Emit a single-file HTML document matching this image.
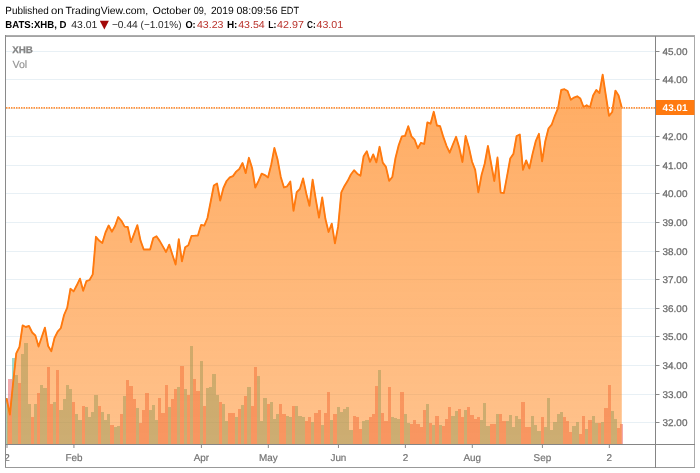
<!DOCTYPE html><html><head><meta charset="utf-8"><title>XHB</title><style>
html,body{margin:0;padding:0;background:#fff;}
body{width:700px;height:473px;position:relative;overflow:hidden;font-family:"Liberation Sans",sans-serif;}
.h{position:absolute;left:5px;white-space:nowrap;color:#000;}
#h1{top:4px;font-size:10.6px;line-height:12px;}
#h2{top:18px;font-size:10.6px;line-height:12px;}
.r{color:#b8312a;} b{font-weight:bold;}
svg{position:absolute;left:0;top:0;will-change:transform;-webkit-font-smoothing:antialiased;}
svg text{font-family:"Liberation Sans",sans-serif;}
</style></head><body>
<svg width="700" height="473" viewBox="0 0 700 473" text-rendering="geometricPrecision">
<defs><linearGradient id="g" gradientUnits="userSpaceOnUse" x1="0" y1="36" x2="0" y2="444"><stop offset="0" stop-color="#ff7f0e" stop-opacity="0.67"/><stop offset="1" stop-color="#ff7f0e" stop-opacity="0.48"/></linearGradient><clipPath id="c"><rect x="6" y="445" width="649" height="22"/></clipPath></defs>
<text x="5.3" y="14.2" font-size="10.4" fill="#050505" textLength="43.5" lengthAdjust="spacingAndGlyphs">Published</text>
<text x="51.0" y="14.2" font-size="10.4" fill="#050505" textLength="12.6" lengthAdjust="spacingAndGlyphs">on</text>
<text x="65.6" y="14.2" font-size="10.4" fill="#050505" textLength="82.5" lengthAdjust="spacingAndGlyphs">TradingView.com,</text>
<text x="152.6" y="14.2" font-size="10.4" fill="#050505" textLength="38.3" lengthAdjust="spacingAndGlyphs">October</text>
<text x="193.8" y="14.2" font-size="10.4" fill="#050505" textLength="12.6" lengthAdjust="spacingAndGlyphs">09,</text>
<text x="210.9" y="14.2" font-size="10.4" fill="#050505" textLength="22.9" lengthAdjust="spacingAndGlyphs">2019</text>
<text x="236.5" y="14.2" font-size="10.4" fill="#050505" textLength="41.1" lengthAdjust="spacingAndGlyphs">08:09:56</text>
<text x="280.7" y="14.2" font-size="10.4" fill="#050505" textLength="18.4" lengthAdjust="spacingAndGlyphs">EDT</text>
<text x="5.3" y="27.9" font-size="10.1" fill="#000" font-weight="bold" textLength="61.2" lengthAdjust="spacingAndGlyphs">BATS:XHB, D</text>
<text x="71.3" y="27.9" font-size="10.1" fill="#2a2a2a" textLength="26.1" lengthAdjust="spacingAndGlyphs">43.01</text>
<text x="111.9" y="27.9" font-size="10.1" fill="#2a2a2a" textLength="25.9" lengthAdjust="spacingAndGlyphs">−0.44</text>
<text x="140.6" y="27.9" font-size="10.1" fill="#2a2a2a" textLength="40.9" lengthAdjust="spacingAndGlyphs">(−1.01%)</text>
<text x="185.4" y="27.9" font-size="10.1" fill="#000" font-weight="bold" textLength="10.3" lengthAdjust="spacingAndGlyphs">O:</text>
<text x="196.9" y="27.9" font-size="10.1" fill="#b9322b" textLength="26.6" lengthAdjust="spacingAndGlyphs">43.23</text>
<text x="226.9" y="27.9" font-size="10.1" fill="#000" font-weight="bold" textLength="10.5" lengthAdjust="spacingAndGlyphs">H:</text>
<text x="238.2" y="27.9" font-size="10.1" fill="#b9322b" textLength="26.6" lengthAdjust="spacingAndGlyphs">43.54</text>
<text x="268.2" y="27.9" font-size="10.1" fill="#000" font-weight="bold" textLength="8.2" lengthAdjust="spacingAndGlyphs">L:</text>
<text x="277.1" y="27.9" font-size="10.1" fill="#b9322b" textLength="26.8" lengthAdjust="spacingAndGlyphs">42.97</text>
<text x="307.1" y="27.9" font-size="10.1" fill="#000" font-weight="bold" textLength="8.6" lengthAdjust="spacingAndGlyphs">C:</text>
<text x="316.5" y="27.9" font-size="10.1" fill="#b9322b" textLength="26.6" lengthAdjust="spacingAndGlyphs">43.01</text>
<polygon points="99.8,20.8 108.9,20.8 104.35,29.4" fill="#a30a0a"/>
<rect x="6" y="422" width="649" height="1" fill="#e8f0f5"/>
<rect x="6" y="394" width="649" height="1" fill="#e8f0f5"/>
<rect x="6" y="365" width="649" height="1" fill="#e8f0f5"/>
<rect x="6" y="336" width="649" height="1" fill="#e8f0f5"/>
<rect x="6" y="308" width="649" height="1" fill="#e8f0f5"/>
<rect x="6" y="279" width="649" height="1" fill="#e8f0f5"/>
<rect x="6" y="251" width="649" height="1" fill="#e8f0f5"/>
<rect x="6" y="222" width="649" height="1" fill="#e8f0f5"/>
<rect x="6" y="193" width="649" height="1" fill="#e8f0f5"/>
<rect x="6" y="165" width="649" height="1" fill="#e8f0f5"/>
<rect x="6" y="136" width="649" height="1" fill="#e8f0f5"/>
<rect x="6" y="108" width="649" height="1" fill="#e8f0f5"/>
<rect x="6" y="79" width="649" height="1" fill="#e8f0f5"/>
<rect x="6" y="51" width="649" height="1" fill="#e8f0f5"/>
<rect x="6" y="398" width="2" height="46" fill="rgba(60,178,160,0.5)"/>
<rect x="8" y="379" width="4" height="65" fill="rgba(228,80,86,0.48)"/>
<rect x="12" y="358" width="3" height="86" fill="rgba(60,178,160,0.5)"/>
<rect x="15" y="375" width="3" height="69" fill="rgba(60,178,160,0.5)"/>
<rect x="18" y="383" width="3" height="61" fill="rgba(228,80,86,0.48)"/>
<rect x="21" y="354" width="3" height="90" fill="rgba(60,178,160,0.5)"/>
<rect x="24" y="343" width="4" height="101" fill="rgba(60,178,160,0.5)"/>
<rect x="28" y="404" width="3" height="40" fill="rgba(60,178,160,0.5)"/>
<rect x="31" y="417" width="3" height="27" fill="rgba(228,80,86,0.48)"/>
<rect x="34" y="404" width="3" height="40" fill="rgba(60,178,160,0.5)"/>
<rect x="37" y="393" width="3" height="51" fill="rgba(228,80,86,0.48)"/>
<rect x="40" y="385" width="3" height="59" fill="rgba(60,178,160,0.5)"/>
<rect x="43" y="388" width="4" height="56" fill="rgba(60,178,160,0.5)"/>
<rect x="47" y="367" width="3" height="77" fill="rgba(228,80,86,0.48)"/>
<rect x="50" y="404" width="3" height="40" fill="rgba(228,80,86,0.48)"/>
<rect x="53" y="402" width="3" height="42" fill="rgba(60,178,160,0.5)"/>
<rect x="56" y="370" width="3" height="74" fill="rgba(228,80,86,0.48)"/>
<rect x="59" y="410" width="4" height="34" fill="rgba(60,178,160,0.5)"/>
<rect x="63" y="399" width="3" height="45" fill="rgba(60,178,160,0.5)"/>
<rect x="66" y="385" width="3" height="59" fill="rgba(60,178,160,0.5)"/>
<rect x="69" y="389" width="3" height="55" fill="rgba(60,178,160,0.5)"/>
<rect x="72" y="402" width="3" height="42" fill="rgba(228,80,86,0.48)"/>
<rect x="75" y="414" width="3" height="30" fill="rgba(60,178,160,0.5)"/>
<rect x="78" y="420" width="4" height="24" fill="rgba(60,178,160,0.5)"/>
<rect x="82" y="406" width="3" height="38" fill="rgba(228,80,86,0.48)"/>
<rect x="85" y="407" width="3" height="37" fill="rgba(60,178,160,0.5)"/>
<rect x="88" y="417" width="3" height="27" fill="rgba(60,178,160,0.5)"/>
<rect x="91" y="412" width="3" height="32" fill="rgba(60,178,160,0.5)"/>
<rect x="94" y="395" width="4" height="49" fill="rgba(60,178,160,0.5)"/>
<rect x="98" y="406" width="3" height="38" fill="rgba(228,80,86,0.48)"/>
<rect x="101" y="412" width="3" height="32" fill="rgba(60,178,160,0.5)"/>
<rect x="104" y="420" width="3" height="24" fill="rgba(60,178,160,0.5)"/>
<rect x="107" y="414" width="3" height="30" fill="rgba(60,178,160,0.5)"/>
<rect x="110" y="425" width="4" height="19" fill="rgba(228,80,86,0.48)"/>
<rect x="114" y="427" width="3" height="17" fill="rgba(60,178,160,0.5)"/>
<rect x="117" y="426" width="3" height="18" fill="rgba(60,178,160,0.5)"/>
<rect x="120" y="414" width="3" height="30" fill="rgba(228,80,86,0.48)"/>
<rect x="123" y="396" width="3" height="48" fill="rgba(60,178,160,0.5)"/>
<rect x="126" y="380" width="3" height="64" fill="rgba(228,80,86,0.48)"/>
<rect x="129" y="386" width="4" height="58" fill="rgba(228,80,86,0.48)"/>
<rect x="133" y="399" width="3" height="45" fill="rgba(228,80,86,0.48)"/>
<rect x="136" y="408" width="3" height="36" fill="rgba(60,178,160,0.5)"/>
<rect x="139" y="423" width="3" height="21" fill="rgba(228,80,86,0.48)"/>
<rect x="142" y="410" width="3" height="34" fill="rgba(228,80,86,0.48)"/>
<rect x="145" y="393" width="4" height="51" fill="rgba(228,80,86,0.48)"/>
<rect x="149" y="410" width="3" height="34" fill="rgba(60,178,160,0.5)"/>
<rect x="152" y="405" width="3" height="39" fill="rgba(60,178,160,0.5)"/>
<rect x="155" y="420" width="3" height="24" fill="rgba(60,178,160,0.5)"/>
<rect x="158" y="398" width="3" height="46" fill="rgba(228,80,86,0.48)"/>
<rect x="161" y="413" width="4" height="31" fill="rgba(228,80,86,0.48)"/>
<rect x="165" y="385" width="3" height="59" fill="rgba(228,80,86,0.48)"/>
<rect x="168" y="407" width="3" height="37" fill="rgba(60,178,160,0.5)"/>
<rect x="171" y="399" width="3" height="45" fill="rgba(228,80,86,0.48)"/>
<rect x="174" y="389" width="3" height="55" fill="rgba(228,80,86,0.48)"/>
<rect x="177" y="387" width="3" height="57" fill="rgba(60,178,160,0.5)"/>
<rect x="180" y="366" width="4" height="78" fill="rgba(228,80,86,0.48)"/>
<rect x="184" y="389" width="3" height="55" fill="rgba(60,178,160,0.5)"/>
<rect x="187" y="395" width="3" height="49" fill="rgba(228,80,86,0.48)"/>
<rect x="190" y="346" width="3" height="98" fill="rgba(60,178,160,0.5)"/>
<rect x="193" y="379" width="3" height="65" fill="rgba(228,80,86,0.48)"/>
<rect x="196" y="391" width="4" height="53" fill="rgba(228,80,86,0.48)"/>
<rect x="200" y="361" width="3" height="83" fill="rgba(60,178,160,0.5)"/>
<rect x="203" y="406" width="3" height="38" fill="rgba(228,80,86,0.48)"/>
<rect x="206" y="388" width="3" height="56" fill="rgba(60,178,160,0.5)"/>
<rect x="209" y="387" width="3" height="57" fill="rgba(60,178,160,0.5)"/>
<rect x="212" y="374" width="4" height="70" fill="rgba(60,178,160,0.5)"/>
<rect x="216" y="395" width="3" height="49" fill="rgba(60,178,160,0.5)"/>
<rect x="219" y="402" width="3" height="42" fill="rgba(228,80,86,0.48)"/>
<rect x="222" y="404" width="3" height="40" fill="rgba(60,178,160,0.5)"/>
<rect x="225" y="421" width="3" height="23" fill="rgba(60,178,160,0.5)"/>
<rect x="228" y="413" width="3" height="31" fill="rgba(228,80,86,0.48)"/>
<rect x="231" y="413" width="4" height="31" fill="rgba(228,80,86,0.48)"/>
<rect x="235" y="417" width="3" height="27" fill="rgba(60,178,160,0.5)"/>
<rect x="238" y="409" width="3" height="35" fill="rgba(228,80,86,0.48)"/>
<rect x="241" y="405" width="3" height="39" fill="rgba(60,178,160,0.5)"/>
<rect x="244" y="396" width="3" height="48" fill="rgba(228,80,86,0.48)"/>
<rect x="247" y="387" width="4" height="57" fill="rgba(60,178,160,0.5)"/>
<rect x="251" y="406" width="3" height="38" fill="rgba(228,80,86,0.48)"/>
<rect x="254" y="367" width="3" height="77" fill="rgba(228,80,86,0.48)"/>
<rect x="257" y="376" width="3" height="68" fill="rgba(60,178,160,0.5)"/>
<rect x="260" y="421" width="3" height="23" fill="rgba(60,178,160,0.5)"/>
<rect x="263" y="398" width="4" height="46" fill="rgba(60,178,160,0.5)"/>
<rect x="267" y="404" width="3" height="40" fill="rgba(228,80,86,0.48)"/>
<rect x="270" y="402" width="3" height="42" fill="rgba(60,178,160,0.5)"/>
<rect x="273" y="419" width="3" height="25" fill="rgba(60,178,160,0.5)"/>
<rect x="276" y="414" width="3" height="30" fill="rgba(60,178,160,0.5)"/>
<rect x="279" y="404" width="3" height="40" fill="rgba(228,80,86,0.48)"/>
<rect x="282" y="414" width="4" height="30" fill="rgba(228,80,86,0.48)"/>
<rect x="286" y="416" width="3" height="28" fill="rgba(60,178,160,0.5)"/>
<rect x="289" y="417" width="3" height="27" fill="rgba(60,178,160,0.5)"/>
<rect x="292" y="406" width="3" height="38" fill="rgba(228,80,86,0.48)"/>
<rect x="295" y="406" width="3" height="38" fill="rgba(60,178,160,0.5)"/>
<rect x="298" y="416" width="4" height="28" fill="rgba(60,178,160,0.5)"/>
<rect x="302" y="417" width="3" height="27" fill="rgba(60,178,160,0.5)"/>
<rect x="305" y="421" width="3" height="23" fill="rgba(228,80,86,0.48)"/>
<rect x="308" y="417" width="3" height="27" fill="rgba(228,80,86,0.48)"/>
<rect x="311" y="422" width="3" height="22" fill="rgba(60,178,160,0.5)"/>
<rect x="314" y="413" width="4" height="31" fill="rgba(228,80,86,0.48)"/>
<rect x="318" y="410" width="3" height="34" fill="rgba(228,80,86,0.48)"/>
<rect x="321" y="425" width="3" height="19" fill="rgba(60,178,160,0.5)"/>
<rect x="324" y="413" width="3" height="31" fill="rgba(228,80,86,0.48)"/>
<rect x="327" y="392" width="3" height="52" fill="rgba(228,80,86,0.48)"/>
<rect x="330" y="420" width="3" height="24" fill="rgba(60,178,160,0.5)"/>
<rect x="333" y="414" width="4" height="30" fill="rgba(228,80,86,0.48)"/>
<rect x="337" y="407" width="3" height="37" fill="rgba(60,178,160,0.5)"/>
<rect x="340" y="412" width="3" height="32" fill="rgba(60,178,160,0.5)"/>
<rect x="343" y="409" width="3" height="35" fill="rgba(60,178,160,0.5)"/>
<rect x="346" y="407" width="3" height="37" fill="rgba(60,178,160,0.5)"/>
<rect x="349" y="430" width="4" height="14" fill="rgba(60,178,160,0.5)"/>
<rect x="353" y="416" width="3" height="28" fill="rgba(228,80,86,0.48)"/>
<rect x="356" y="417" width="3" height="27" fill="rgba(228,80,86,0.48)"/>
<rect x="359" y="429" width="3" height="15" fill="rgba(228,80,86,0.48)"/>
<rect x="362" y="421" width="3" height="23" fill="rgba(60,178,160,0.5)"/>
<rect x="365" y="420" width="4" height="24" fill="rgba(60,178,160,0.5)"/>
<rect x="369" y="417" width="3" height="27" fill="rgba(228,80,86,0.48)"/>
<rect x="372" y="414" width="3" height="30" fill="rgba(228,80,86,0.48)"/>
<rect x="375" y="386" width="3" height="58" fill="rgba(228,80,86,0.48)"/>
<rect x="378" y="370" width="3" height="74" fill="rgba(60,178,160,0.5)"/>
<rect x="381" y="413" width="3" height="31" fill="rgba(228,80,86,0.48)"/>
<rect x="384" y="421" width="4" height="23" fill="rgba(228,80,86,0.48)"/>
<rect x="388" y="387" width="3" height="57" fill="rgba(228,80,86,0.48)"/>
<rect x="391" y="417" width="3" height="27" fill="rgba(60,178,160,0.5)"/>
<rect x="394" y="418" width="3" height="26" fill="rgba(60,178,160,0.5)"/>
<rect x="397" y="419" width="3" height="25" fill="rgba(60,178,160,0.5)"/>
<rect x="400" y="392" width="4" height="52" fill="rgba(228,80,86,0.48)"/>
<rect x="404" y="414" width="3" height="30" fill="rgba(60,178,160,0.5)"/>
<rect x="407" y="423" width="3" height="21" fill="rgba(60,178,160,0.5)"/>
<rect x="410" y="424" width="3" height="20" fill="rgba(228,80,86,0.48)"/>
<rect x="413" y="420" width="3" height="24" fill="rgba(228,80,86,0.48)"/>
<rect x="416" y="424" width="4" height="20" fill="rgba(228,80,86,0.48)"/>
<rect x="420" y="427" width="3" height="17" fill="rgba(228,80,86,0.48)"/>
<rect x="423" y="410" width="3" height="34" fill="rgba(228,80,86,0.48)"/>
<rect x="426" y="404" width="3" height="40" fill="rgba(60,178,160,0.5)"/>
<rect x="429" y="423" width="3" height="21" fill="rgba(228,80,86,0.48)"/>
<rect x="432" y="425" width="3" height="19" fill="rgba(60,178,160,0.5)"/>
<rect x="435" y="416" width="4" height="28" fill="rgba(228,80,86,0.48)"/>
<rect x="439" y="425" width="3" height="19" fill="rgba(60,178,160,0.5)"/>
<rect x="442" y="426" width="3" height="18" fill="rgba(228,80,86,0.48)"/>
<rect x="445" y="419" width="3" height="25" fill="rgba(228,80,86,0.48)"/>
<rect x="448" y="407" width="3" height="37" fill="rgba(228,80,86,0.48)"/>
<rect x="451" y="416" width="4" height="28" fill="rgba(60,178,160,0.5)"/>
<rect x="455" y="411" width="3" height="33" fill="rgba(60,178,160,0.5)"/>
<rect x="458" y="409" width="3" height="35" fill="rgba(228,80,86,0.48)"/>
<rect x="461" y="417" width="3" height="27" fill="rgba(228,80,86,0.48)"/>
<rect x="464" y="410" width="3" height="34" fill="rgba(60,178,160,0.5)"/>
<rect x="467" y="407" width="3" height="37" fill="rgba(228,80,86,0.48)"/>
<rect x="470" y="415" width="4" height="29" fill="rgba(228,80,86,0.48)"/>
<rect x="474" y="419" width="3" height="25" fill="rgba(228,80,86,0.48)"/>
<rect x="477" y="417" width="3" height="27" fill="rgba(228,80,86,0.48)"/>
<rect x="480" y="420" width="3" height="24" fill="rgba(60,178,160,0.5)"/>
<rect x="483" y="403" width="3" height="41" fill="rgba(60,178,160,0.5)"/>
<rect x="486" y="426" width="4" height="18" fill="rgba(60,178,160,0.5)"/>
<rect x="490" y="424" width="3" height="20" fill="rgba(228,80,86,0.48)"/>
<rect x="493" y="424" width="3" height="20" fill="rgba(228,80,86,0.48)"/>
<rect x="496" y="414" width="3" height="30" fill="rgba(60,178,160,0.5)"/>
<rect x="499" y="414" width="3" height="30" fill="rgba(228,80,86,0.48)"/>
<rect x="502" y="421" width="4" height="23" fill="rgba(228,80,86,0.48)"/>
<rect x="506" y="421" width="3" height="23" fill="rgba(60,178,160,0.5)"/>
<rect x="509" y="415" width="3" height="29" fill="rgba(60,178,160,0.5)"/>
<rect x="512" y="427" width="3" height="17" fill="rgba(60,178,160,0.5)"/>
<rect x="515" y="416" width="3" height="28" fill="rgba(60,178,160,0.5)"/>
<rect x="518" y="419" width="3" height="25" fill="rgba(60,178,160,0.5)"/>
<rect x="521" y="402" width="4" height="42" fill="rgba(228,80,86,0.48)"/>
<rect x="525" y="427" width="3" height="17" fill="rgba(228,80,86,0.48)"/>
<rect x="528" y="427" width="3" height="17" fill="rgba(228,80,86,0.48)"/>
<rect x="531" y="416" width="3" height="28" fill="rgba(60,178,160,0.5)"/>
<rect x="534" y="425" width="3" height="19" fill="rgba(60,178,160,0.5)"/>
<rect x="537" y="431" width="4" height="13" fill="rgba(60,178,160,0.5)"/>
<rect x="541" y="417" width="3" height="27" fill="rgba(228,80,86,0.48)"/>
<rect x="544" y="427" width="3" height="17" fill="rgba(60,178,160,0.5)"/>
<rect x="547" y="398" width="3" height="46" fill="rgba(60,178,160,0.5)"/>
<rect x="550" y="430" width="3" height="14" fill="rgba(60,178,160,0.5)"/>
<rect x="553" y="422" width="4" height="22" fill="rgba(60,178,160,0.5)"/>
<rect x="557" y="414" width="3" height="30" fill="rgba(60,178,160,0.5)"/>
<rect x="560" y="412" width="3" height="32" fill="rgba(60,178,160,0.5)"/>
<rect x="563" y="417" width="3" height="27" fill="rgba(228,80,86,0.48)"/>
<rect x="566" y="421" width="3" height="23" fill="rgba(228,80,86,0.48)"/>
<rect x="569" y="432" width="3" height="12" fill="rgba(228,80,86,0.48)"/>
<rect x="572" y="426" width="4" height="18" fill="rgba(60,178,160,0.5)"/>
<rect x="576" y="422" width="3" height="22" fill="rgba(60,178,160,0.5)"/>
<rect x="579" y="434" width="3" height="10" fill="rgba(228,80,86,0.48)"/>
<rect x="582" y="416" width="3" height="28" fill="rgba(228,80,86,0.48)"/>
<rect x="585" y="429" width="3" height="15" fill="rgba(60,178,160,0.5)"/>
<rect x="588" y="420" width="4" height="24" fill="rgba(228,80,86,0.48)"/>
<rect x="592" y="416" width="3" height="28" fill="rgba(60,178,160,0.5)"/>
<rect x="595" y="423" width="3" height="21" fill="rgba(60,178,160,0.5)"/>
<rect x="598" y="423" width="3" height="21" fill="rgba(228,80,86,0.48)"/>
<rect x="601" y="422" width="3" height="22" fill="rgba(60,178,160,0.5)"/>
<rect x="604" y="408" width="4" height="36" fill="rgba(228,80,86,0.48)"/>
<rect x="608" y="385" width="3" height="59" fill="rgba(228,80,86,0.48)"/>
<rect x="611" y="411" width="3" height="33" fill="rgba(60,178,160,0.5)"/>
<rect x="614" y="419" width="3" height="25" fill="rgba(60,178,160,0.5)"/>
<rect x="617" y="428" width="3" height="16" fill="rgba(228,80,86,0.48)"/>
<rect x="620" y="424" width="3" height="20" fill="rgba(228,80,86,0.48)"/>
<polygon points="6.69,444.0 6.69,399.0 9.88,414.6 13.06,383.5 16.25,353.3 19.44,347.0 22.62,325.4 25.81,327.0 29.00,326.0 32.19,332.5 35.37,335.5 38.56,346.5 41.75,337.0 44.93,327.6 48.12,346.0 51.31,351.2 54.49,338.0 57.68,331.7 60.87,328.0 64.06,315.0 67.24,307.6 70.43,288.8 73.62,291.4 76.80,285.3 79.99,278.7 83.18,290.8 86.36,281.2 89.55,280.0 92.74,274.4 95.93,236.8 99.11,240.6 102.30,243.0 105.49,232.5 108.67,225.5 111.86,231.7 115.05,226.0 118.23,217.0 121.42,220.8 124.61,226.6 127.80,227.0 130.98,242.1 134.17,233.7 137.36,225.2 140.54,240.6 143.73,249.5 146.92,249.5 150.10,249.5 153.29,238.0 156.48,236.3 159.67,240.9 162.85,246.4 166.04,252.0 169.23,244.6 172.41,254.8 175.60,264.5 178.79,239.1 181.97,261.4 185.16,247.2 188.35,245.2 191.54,235.8 194.72,235.7 197.91,235.5 201.10,224.9 204.28,225.6 207.47,218.0 210.66,201.8 213.84,185.5 217.03,183.5 220.22,200.5 223.41,188.0 226.59,181.0 229.78,177.4 232.97,176.1 236.15,171.6 239.34,169.0 242.53,163.0 245.71,173.1 248.90,157.8 252.09,168.0 255.28,187.5 258.46,181.2 261.65,173.6 264.84,175.1 268.02,177.4 271.21,164.7 274.40,148.0 277.58,159.6 280.77,176.9 283.96,187.5 287.15,186.3 290.33,181.6 293.52,210.9 296.71,192.1 299.89,189.0 303.08,178.5 306.27,193.4 309.45,205.8 312.64,179.7 315.83,199.7 319.02,217.7 322.20,197.5 325.39,218.8 328.58,232.0 331.76,223.7 334.95,243.3 338.14,226.4 341.32,192.3 344.51,185.9 347.70,180.8 350.89,174.5 354.07,170.2 357.26,173.7 360.45,175.8 363.63,156.2 366.82,151.2 370.01,161.9 373.19,154.4 376.38,162.4 379.57,146.8 382.76,162.6 385.94,166.9 389.13,180.8 392.32,177.0 395.50,158.0 398.69,145.3 401.88,136.4 405.06,135.9 408.25,126.2 411.44,136.4 414.63,139.7 417.81,148.2 421.00,142.8 424.19,144.0 427.37,122.4 430.56,123.7 433.75,111.8 436.94,125.5 440.12,126.2 443.31,136.9 446.50,145.8 449.68,152.7 452.87,144.5 456.06,136.8 459.24,147.5 462.43,162.0 465.62,136.0 468.80,147.0 471.99,161.5 475.18,169.9 478.37,192.4 481.55,175.0 484.74,163.5 487.93,146.0 491.11,163.5 494.30,181.0 497.49,157.5 500.67,192.7 503.86,193.2 507.05,176.2 510.24,158.5 513.42,153.9 516.61,136.0 519.80,134.5 522.98,169.8 526.17,160.4 529.36,168.5 532.55,153.9 535.73,141.2 538.92,133.8 542.11,161.3 545.29,141.2 548.48,128.5 551.67,124.7 554.85,115.8 558.04,108.2 561.23,90.0 564.42,89.2 567.60,91.0 570.79,99.8 573.98,97.6 577.16,96.3 580.35,98.6 583.54,107.0 586.72,105.2 589.91,107.5 593.10,95.5 596.28,90.0 599.47,93.0 602.66,74.7 605.85,95.5 609.03,115.8 612.22,112.0 615.41,90.6 618.59,95.5 621.78,107.7 621.78,444.0" fill="url(#g)"/>
<polyline points="6.69,399.0 9.88,414.6 13.06,383.5 16.25,353.3 19.44,347.0 22.62,325.4 25.81,327.0 29.00,326.0 32.19,332.5 35.37,335.5 38.56,346.5 41.75,337.0 44.93,327.6 48.12,346.0 51.31,351.2 54.49,338.0 57.68,331.7 60.87,328.0 64.06,315.0 67.24,307.6 70.43,288.8 73.62,291.4 76.80,285.3 79.99,278.7 83.18,290.8 86.36,281.2 89.55,280.0 92.74,274.4 95.93,236.8 99.11,240.6 102.30,243.0 105.49,232.5 108.67,225.5 111.86,231.7 115.05,226.0 118.23,217.0 121.42,220.8 124.61,226.6 127.80,227.0 130.98,242.1 134.17,233.7 137.36,225.2 140.54,240.6 143.73,249.5 146.92,249.5 150.10,249.5 153.29,238.0 156.48,236.3 159.67,240.9 162.85,246.4 166.04,252.0 169.23,244.6 172.41,254.8 175.60,264.5 178.79,239.1 181.97,261.4 185.16,247.2 188.35,245.2 191.54,235.8 194.72,235.7 197.91,235.5 201.10,224.9 204.28,225.6 207.47,218.0 210.66,201.8 213.84,185.5 217.03,183.5 220.22,200.5 223.41,188.0 226.59,181.0 229.78,177.4 232.97,176.1 236.15,171.6 239.34,169.0 242.53,163.0 245.71,173.1 248.90,157.8 252.09,168.0 255.28,187.5 258.46,181.2 261.65,173.6 264.84,175.1 268.02,177.4 271.21,164.7 274.40,148.0 277.58,159.6 280.77,176.9 283.96,187.5 287.15,186.3 290.33,181.6 293.52,210.9 296.71,192.1 299.89,189.0 303.08,178.5 306.27,193.4 309.45,205.8 312.64,179.7 315.83,199.7 319.02,217.7 322.20,197.5 325.39,218.8 328.58,232.0 331.76,223.7 334.95,243.3 338.14,226.4 341.32,192.3 344.51,185.9 347.70,180.8 350.89,174.5 354.07,170.2 357.26,173.7 360.45,175.8 363.63,156.2 366.82,151.2 370.01,161.9 373.19,154.4 376.38,162.4 379.57,146.8 382.76,162.6 385.94,166.9 389.13,180.8 392.32,177.0 395.50,158.0 398.69,145.3 401.88,136.4 405.06,135.9 408.25,126.2 411.44,136.4 414.63,139.7 417.81,148.2 421.00,142.8 424.19,144.0 427.37,122.4 430.56,123.7 433.75,111.8 436.94,125.5 440.12,126.2 443.31,136.9 446.50,145.8 449.68,152.7 452.87,144.5 456.06,136.8 459.24,147.5 462.43,162.0 465.62,136.0 468.80,147.0 471.99,161.5 475.18,169.9 478.37,192.4 481.55,175.0 484.74,163.5 487.93,146.0 491.11,163.5 494.30,181.0 497.49,157.5 500.67,192.7 503.86,193.2 507.05,176.2 510.24,158.5 513.42,153.9 516.61,136.0 519.80,134.5 522.98,169.8 526.17,160.4 529.36,168.5 532.55,153.9 535.73,141.2 538.92,133.8 542.11,161.3 545.29,141.2 548.48,128.5 551.67,124.7 554.85,115.8 558.04,108.2 561.23,90.0 564.42,89.2 567.60,91.0 570.79,99.8 573.98,97.6 577.16,96.3 580.35,98.6 583.54,107.0 586.72,105.2 589.91,107.5 593.10,95.5 596.28,90.0 599.47,93.0 602.66,74.7 605.85,95.5 609.03,115.8 612.22,112.0 615.41,90.6 618.59,95.5 621.78,107.7" fill="none" stroke="#ff7a10" stroke-width="1.85" stroke-linejoin="round" stroke-linecap="round"/>
<polyline points="6.69,399.0 9.88,414.6 13.06,383.5 16.25,353.3 19.44,347.0 22.62,325.4 25.81,327.0 29.00,326.0 32.19,332.5 35.37,335.5 38.56,346.5 41.75,337.0 44.93,327.6 48.12,346.0 51.31,351.2 54.49,338.0 57.68,331.7 60.87,328.0 64.06,315.0 67.24,307.6 70.43,288.8 73.62,291.4 76.80,285.3 79.99,278.7 83.18,290.8 86.36,281.2 89.55,280.0 92.74,274.4 95.93,236.8 99.11,240.6 102.30,243.0 105.49,232.5 108.67,225.5 111.86,231.7 115.05,226.0 118.23,217.0 121.42,220.8 124.61,226.6 127.80,227.0 130.98,242.1 134.17,233.7 137.36,225.2 140.54,240.6 143.73,249.5 146.92,249.5 150.10,249.5 153.29,238.0 156.48,236.3 159.67,240.9 162.85,246.4 166.04,252.0 169.23,244.6 172.41,254.8 175.60,264.5 178.79,239.1 181.97,261.4 185.16,247.2 188.35,245.2 191.54,235.8 194.72,235.7 197.91,235.5 201.10,224.9 204.28,225.6 207.47,218.0 210.66,201.8 213.84,185.5 217.03,183.5 220.22,200.5 223.41,188.0 226.59,181.0 229.78,177.4 232.97,176.1 236.15,171.6 239.34,169.0 242.53,163.0 245.71,173.1 248.90,157.8 252.09,168.0 255.28,187.5 258.46,181.2 261.65,173.6 264.84,175.1 268.02,177.4 271.21,164.7 274.40,148.0 277.58,159.6 280.77,176.9 283.96,187.5 287.15,186.3 290.33,181.6 293.52,210.9 296.71,192.1 299.89,189.0 303.08,178.5 306.27,193.4 309.45,205.8 312.64,179.7 315.83,199.7 319.02,217.7 322.20,197.5 325.39,218.8 328.58,232.0 331.76,223.7 334.95,243.3 338.14,226.4 341.32,192.3 344.51,185.9 347.70,180.8 350.89,174.5 354.07,170.2 357.26,173.7 360.45,175.8 363.63,156.2 366.82,151.2 370.01,161.9 373.19,154.4 376.38,162.4 379.57,146.8 382.76,162.6 385.94,166.9 389.13,180.8 392.32,177.0 395.50,158.0 398.69,145.3 401.88,136.4 405.06,135.9 408.25,126.2 411.44,136.4 414.63,139.7 417.81,148.2 421.00,142.8 424.19,144.0 427.37,122.4 430.56,123.7 433.75,111.8 436.94,125.5 440.12,126.2 443.31,136.9 446.50,145.8 449.68,152.7 452.87,144.5 456.06,136.8 459.24,147.5 462.43,162.0 465.62,136.0 468.80,147.0 471.99,161.5 475.18,169.9 478.37,192.4 481.55,175.0 484.74,163.5 487.93,146.0 491.11,163.5 494.30,181.0 497.49,157.5 500.67,192.7 503.86,193.2 507.05,176.2 510.24,158.5 513.42,153.9 516.61,136.0 519.80,134.5 522.98,169.8 526.17,160.4 529.36,168.5 532.55,153.9 535.73,141.2 538.92,133.8 542.11,161.3 545.29,141.2 548.48,128.5 551.67,124.7 554.85,115.8 558.04,108.2 561.23,90.0 564.42,89.2 567.60,91.0 570.79,99.8 573.98,97.6 577.16,96.3 580.35,98.6 583.54,107.0 586.72,105.2 589.91,107.5 593.10,95.5 596.28,90.0 599.47,93.0 602.66,74.7 605.85,95.5 609.03,115.8 612.22,112.0 615.41,90.6 618.59,95.5 621.78,107.7" fill="none" stroke="#ff7a10" stroke-width="0.7" stroke-linejoin="miter" stroke-miterlimit="10" stroke-linecap="butt"/>
<line x1="6" y1="107.9" x2="655" y2="107.9" stroke="#ff913a" stroke-width="1.6" stroke-dasharray="1.5,1"/>
<rect x="5" y="35.2" width="690" height="1.7" fill="#9a9a9a"/>
<rect x="5" y="35" width="1" height="433" fill="#8a8a8a"/>
<rect x="694" y="36" width="1" height="432" fill="#aaa"/>
<rect x="5" y="467" width="690" height="1" fill="#999"/>
<rect x="655" y="36" width="1" height="432" fill="#858585"/>
<rect x="5" y="444" width="690" height="1" fill="#858585"/>
<rect x="656" y="422" width="3.5" height="1" fill="#8a8a8a"/>
<text x="662.6" y="426.0" font-size="9.7" fill="#6a6a6a" stroke="#6a6a6a" stroke-width="0.25" textLength="24.8" lengthAdjust="spacingAndGlyphs">32.00</text>
<rect x="656" y="394" width="3.5" height="1" fill="#8a8a8a"/>
<text x="662.6" y="398.0" font-size="9.7" fill="#6a6a6a" stroke="#6a6a6a" stroke-width="0.25" textLength="24.8" lengthAdjust="spacingAndGlyphs">33.00</text>
<rect x="656" y="365" width="3.5" height="1" fill="#8a8a8a"/>
<text x="662.6" y="369.0" font-size="9.7" fill="#6a6a6a" stroke="#6a6a6a" stroke-width="0.25" textLength="24.8" lengthAdjust="spacingAndGlyphs">34.00</text>
<rect x="656" y="336" width="3.5" height="1" fill="#8a8a8a"/>
<text x="662.6" y="340.0" font-size="9.7" fill="#6a6a6a" stroke="#6a6a6a" stroke-width="0.25" textLength="24.8" lengthAdjust="spacingAndGlyphs">35.00</text>
<rect x="656" y="308" width="3.5" height="1" fill="#8a8a8a"/>
<text x="662.6" y="312.0" font-size="9.7" fill="#6a6a6a" stroke="#6a6a6a" stroke-width="0.25" textLength="24.8" lengthAdjust="spacingAndGlyphs">36.00</text>
<rect x="656" y="279" width="3.5" height="1" fill="#8a8a8a"/>
<text x="662.6" y="283.0" font-size="9.7" fill="#6a6a6a" stroke="#6a6a6a" stroke-width="0.25" textLength="24.8" lengthAdjust="spacingAndGlyphs">37.00</text>
<rect x="656" y="251" width="3.5" height="1" fill="#8a8a8a"/>
<text x="662.6" y="255.0" font-size="9.7" fill="#6a6a6a" stroke="#6a6a6a" stroke-width="0.25" textLength="24.8" lengthAdjust="spacingAndGlyphs">38.00</text>
<rect x="656" y="222" width="3.5" height="1" fill="#8a8a8a"/>
<text x="662.6" y="226.0" font-size="9.7" fill="#6a6a6a" stroke="#6a6a6a" stroke-width="0.25" textLength="24.8" lengthAdjust="spacingAndGlyphs">39.00</text>
<rect x="656" y="193" width="3.5" height="1" fill="#8a8a8a"/>
<text x="662.6" y="197.0" font-size="9.7" fill="#6a6a6a" stroke="#6a6a6a" stroke-width="0.25" textLength="24.8" lengthAdjust="spacingAndGlyphs">40.00</text>
<rect x="656" y="165" width="3.5" height="1" fill="#8a8a8a"/>
<text x="662.6" y="169.0" font-size="9.7" fill="#6a6a6a" stroke="#6a6a6a" stroke-width="0.25" textLength="24.8" lengthAdjust="spacingAndGlyphs">41.00</text>
<rect x="656" y="136" width="3.5" height="1" fill="#8a8a8a"/>
<text x="662.6" y="140.0" font-size="9.7" fill="#6a6a6a" stroke="#6a6a6a" stroke-width="0.25" textLength="24.8" lengthAdjust="spacingAndGlyphs">42.00</text>
<rect x="656" y="79" width="3.5" height="1" fill="#8a8a8a"/>
<text x="662.6" y="83.0" font-size="9.7" fill="#6a6a6a" stroke="#6a6a6a" stroke-width="0.25" textLength="24.8" lengthAdjust="spacingAndGlyphs">44.00</text>
<rect x="656" y="51" width="3.5" height="1" fill="#8a8a8a"/>
<text x="662.6" y="55.0" font-size="9.7" fill="#6a6a6a" stroke="#6a6a6a" stroke-width="0.25" textLength="24.8" lengthAdjust="spacingAndGlyphs">45.00</text>
<rect x="656" y="100" width="38.5" height="15" fill="#ff7a10"/>
<text x="662.6" y="111.2" font-size="9.7" font-weight="bold" fill="#fff" textLength="25" lengthAdjust="spacingAndGlyphs">43.01</text>
<rect x="6.49" y="445" width="1" height="3" fill="#8a8a8a"/>
<text x="7.0" y="460.7" font-size="9.9" fill="#747474" stroke="#747474" stroke-width="0.2" text-anchor="middle" clip-path="url(#c)">2</text>
<rect x="73.42" y="445" width="1" height="3" fill="#8a8a8a"/>
<text x="73.9" y="460.7" font-size="9.9" fill="#747474" stroke="#747474" stroke-width="0.2" text-anchor="middle" clip-path="url(#c)">Feb</text>
<rect x="200.90" y="445" width="1" height="3" fill="#8a8a8a"/>
<text x="201.4" y="460.7" font-size="9.9" fill="#747474" stroke="#747474" stroke-width="0.2" text-anchor="middle" clip-path="url(#c)">Apr</text>
<rect x="267.82" y="445" width="1" height="3" fill="#8a8a8a"/>
<text x="268.3" y="460.7" font-size="9.9" fill="#747474" stroke="#747474" stroke-width="0.2" text-anchor="middle" clip-path="url(#c)">May</text>
<rect x="337.94" y="445" width="1" height="3" fill="#8a8a8a"/>
<text x="338.4" y="460.7" font-size="9.9" fill="#747474" stroke="#747474" stroke-width="0.2" text-anchor="middle" clip-path="url(#c)">Jun</text>
<rect x="404.87" y="445" width="1" height="3" fill="#8a8a8a"/>
<text x="405.4" y="460.7" font-size="9.9" fill="#747474" stroke="#747474" stroke-width="0.2" text-anchor="middle" clip-path="url(#c)">2</text>
<rect x="471.79" y="445" width="1" height="3" fill="#8a8a8a"/>
<text x="472.3" y="460.7" font-size="9.9" fill="#747474" stroke="#747474" stroke-width="0.2" text-anchor="middle" clip-path="url(#c)">Aug</text>
<rect x="541.91" y="445" width="1" height="3" fill="#8a8a8a"/>
<text x="542.4" y="460.7" font-size="9.9" fill="#747474" stroke="#747474" stroke-width="0.2" text-anchor="middle" clip-path="url(#c)">Sep</text>
<rect x="608.83" y="445" width="1" height="3" fill="#8a8a8a"/>
<text x="609.3" y="460.7" font-size="9.9" fill="#747474" stroke="#747474" stroke-width="0.2" text-anchor="middle" clip-path="url(#c)">2</text>
<text x="12.2" y="53.2" font-size="9.6" font-weight="bold" fill="#858585" stroke="#858585" stroke-width="0.25" textLength="20.8" lengthAdjust="spacingAndGlyphs">XHB</text>
<text x="12.4" y="67.9" font-size="10.6" fill="#939393" stroke="#939393" stroke-width="0.15" textLength="14.8" lengthAdjust="spacingAndGlyphs">Vol</text>
</svg></body></html>
